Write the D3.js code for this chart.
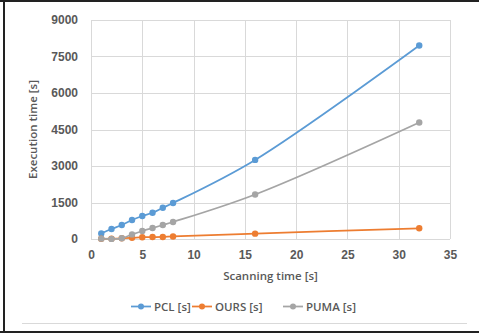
<!DOCTYPE html>
<html>
<head>
<meta charset="utf-8">
<script src="https://cdn.jsdelivr.net/npm/d3@7"></script>
<style>
  html, body { margin: 0; padding: 0; background: #fff; }
  svg { display: block; font-family: "Open Sans", "Liberation Sans", sans-serif; }
</style>
</head>
<body>
<div id="chart"></div>
<script>
// chart data
const scanTimes = [1, 2, 3, 4, 5, 6, 7, 8, 16, 32];
const pclValues = [230, 410, 575, 780, 945, 1080, 1285, 1480, 3250, 7950];
const oursValues = [10, 15, 30, 50, 75, 80, 85, 105, 220, 440];
const pumaValues = [15, 5, 30, 190, 330, 450, 575, 700, 1830, 4790];
const seriesNames = ['PCL [s]', 'OURS [s]', 'PUMA [s]'];
const seriesColors = ['#5B9BD5', '#ED7D31', '#A5A5A5'];
const xTicks = [0, 5, 10, 15, 20, 25, 30, 35];
const yTicks = [0, 1500, 3000, 4500, 6000, 7500, 9000];

const W = 479, H = 333;
const margin = { top: 20, right: 29, bottom: 94, left: 91 };
const width = W - margin.left - margin.right;
const height = H - margin.top - margin.bottom;

const svg = d3.select('#chart').append('svg')
  .attr('width', W)
  .attr('height', H);

// outer frame (dark on top / left / bottom)
svg.append('rect').attr('x', 0).attr('y', 0).attr('width', W).attr('height', 2).attr('fill', '#222');
svg.append('rect').attr('x', 3).attr('y', 0).attr('width', 2).attr('height', H).attr('fill', '#222');
svg.append('rect').attr('x', 0).attr('y', 331).attr('width', W).attr('height', 2).attr('fill', '#222');
svg.append('line')
  .attr('x1', 22).attr('x2', 467).attr('y1', 323.5).attr('y2', 323.5)
  .attr('stroke', '#d9d9d9').attr('stroke-width', 1);

const g = svg.append('g')
  .attr('transform', `translate(${margin.left},${margin.top})`);

const x = d3.scaleLinear().domain([0, 35]).range([0, width]);
const y = d3.scaleLinear().domain([0, 9000]).range([height, 0]);

// gridlines
g.append('g')
  .selectAll('line.h')
  .data(yTicks)
  .join('line')
  .attr('x1', 0).attr('x2', width)
  .attr('y1', d => Math.round(y(d)) + 0.5).attr('y2', d => Math.round(y(d)) + 0.5)
  .attr('stroke', '#d9d9d9');

g.append('g')
  .selectAll('line.v')
  .data(xTicks)
  .join('line')
  .attr('y1', 0).attr('y2', height)
  .attr('x1', d => Math.round(x(d)) + 0.5).attr('x2', d => Math.round(x(d)) + 0.5)
  .attr('stroke', '#d9d9d9');

// axes (labels only)
const xAxis = g.append('g')
  .attr('transform', `translate(0,${height})`)
  .call(d3.axisBottom(x).tickValues(xTicks).tickSize(0).tickPadding(11));
const yAxis = g.append('g')
  .call(d3.axisLeft(y).tickValues(yTicks).tickSize(0).tickPadding(13).tickFormat(d3.format('d')));
[xAxis, yAxis].forEach(a => {
  a.select('.domain').remove();
  a.selectAll('text')
    .attr('fill', '#595959')
    .style('font-size', '12px')
    .style('font-weight', '600');
});

// axis titles
svg.append('text')
  .attr('x', margin.left + width / 2)
  .attr('y', 280)
  .attr('text-anchor', 'middle')
  .attr('fill', '#595959')
  .style('font-size', '11.5px')
  .style('font-weight', '600')
  .text('Scanning time [s]');

svg.append('text')
  .attr('transform', `translate(37,${margin.top + height / 2}) rotate(-90)`)
  .attr('text-anchor', 'middle')
  .attr('fill', '#595959')
  .style('font-size', '11.5px')
  .style('font-weight', '600')
  .text('Execution time [s]');

// series
const allSeries = [pclValues, oursValues, pumaValues];
const line = d3.line()
  .x(d => x(d[0]))
  .y(d => y(d[1]))
  .curve(d3.curveCatmullRom.alpha(0.5));

allSeries.forEach((vals, i) => {
  const pts = scanTimes.map((t, j) => [t, vals[j]]);
  const sg = g.append('g');
  sg.append('path')
    .datum(pts)
    .attr('d', line)
    .attr('fill', 'none')
    .attr('stroke', seriesColors[i])
    .attr('stroke-width', 1.75);
  sg.selectAll('circle')
    .data(pts)
    .join('circle')
    .attr('cx', d => x(d[0]))
    .attr('cy', d => y(d[1]))
    .attr('r', 3.2)
    .attr('fill', seriesColors[i]);
});

// legend
const legendItems = [
  { name: seriesNames[0], color: seriesColors[0], x: 131 },
  { name: seriesNames[1], color: seriesColors[1], x: 192 },
  { name: seriesNames[2], color: seriesColors[2], x: 283 }
];
const legend = svg.append('g').attr('transform', 'translate(0,306.5)');
legendItems.forEach(it => {
  const lg = legend.append('g').attr('transform', `translate(${it.x},0)`);
  lg.append('line')
    .attr('x1', 0).attr('x2', 20).attr('y1', 0).attr('y2', 0)
    .attr('stroke', it.color).attr('stroke-width', 1.75);
  lg.append('circle').attr('cx', 10).attr('cy', 0).attr('r', 3).attr('fill', it.color);
  lg.append('text')
    .attr('x', 23).attr('y', 4)
    .attr('fill', '#595959')
    .style('font-size', '11.5px')
    .style('font-weight', '600')
    .text(it.name);
});
</script>
</body>
</html>
